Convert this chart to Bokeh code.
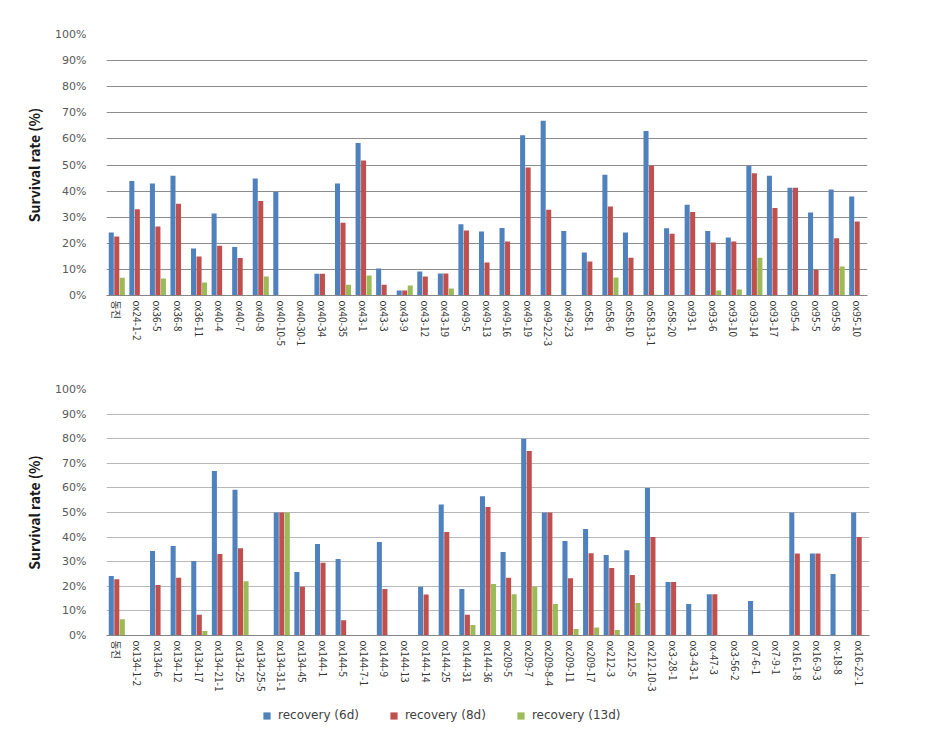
from bokeh.plotting import figure
from bokeh.layouts import column
from bokeh.models import FactorRange, Range1d, FixedTicker, Legend, LegendItem, ColumnDataSource
from bokeh.transform import dodge
from bokeh.embed import file_html
from bokeh.resources import INLINE

# ---------------- data ----------------
top_cats = ["동진", "ox24-1-2", "ox36-5", "ox36-8", "ox36-11", "ox40-4", "ox40-7", "ox40-8",
            "ox40-10-5", "ox40-30-1", "ox40-34", "ox40-35", "ox43-1", "ox43-3", "ox43-9",
            "ox43-12", "ox43-19", "ox49-5", "ox49-13", "ox49-16", "ox49-19", "ox49-22-3",
            "ox49-23", "ox58-1", "ox58-6", "ox58-10", "ox58-13-1", "ox58-20", "ox93-1",
            "ox93-6", "ox93-10", "ox93-14", "ox93-17", "ox95-4", "ox95-5", "ox95-8", "ox95-10"]
top_6d = [24.1, 43.9, 42.9, 45.9, 18.0, 31.4, 18.6, 44.8, 39.7, 0, 8.3, 42.9, 58.4, 10.3, 1.9,
          9.2, 8.4, 27.3, 24.5, 25.9, 61.4, 67.0, 24.7, 16.5, 46.3, 24.1, 63.0, 25.8, 34.8,
          24.7, 22.2, 49.7, 45.9, 41.3, 31.8, 40.6, 37.9]
top_8d = [22.6, 33.0, 26.4, 35.2, 14.9, 19.1, 14.4, 36.2, 0, 0, 8.3, 27.9, 51.7, 4.1, 1.9,
          7.3, 8.4, 24.9, 12.6, 20.7, 49.0, 32.9, 0, 13.0, 34.1, 14.5, 49.7, 23.7, 32.0,
          20.3, 20.7, 46.8, 33.5, 41.3, 9.8, 21.9, 28.4]
top_13d = [6.8, 0, 6.5, 0, 5.0, 0, 0, 7.3, 0, 0, 0, 4.1, 7.7, 0, 3.8,
           0, 2.7, 0, 0, 0, 0, 0, 0, 0, 6.9, 0, 0, 0, 0,
           1.9, 2.3, 14.5, 0, 0, 0, 11.1, 0]

bot_cats = ["동진", "ox134-1-2", "ox134-6", "ox134-12", "ox134-17", "ox134-21-1", "ox134-25",
            "ox134-25-5", "ox134-31-1", "ox134-45", "ox144-1", "ox144-5", "ox144-7-1",
            "ox144-9", "ox144-13", "ox144-14", "ox144-25", "ox144-31", "ox144-36", "ox209-5",
            "ox209-7", "ox209-8-4", "ox209-11", "ox209-17", "ox212-3", "ox212-5",
            "ox212-10-3", "ox3-28-1", "ox3-43-1", "ox-47-3", "ox3-56-2", "ox7-6-1",
            "ox7-9-1", "ox16-1-8", "ox16-9-3", "ox-18-8", "ox16-22-1"]
bot_6d = [24.2, 0, 34.3, 36.4, 30.3, 66.9, 59.2, 0, 50.0, 25.8, 37.2, 31.1, 0, 38.0, 0,
          19.8, 53.3, 18.9, 56.6, 33.9, 80.0, 50.0, 38.4, 43.3, 32.7, 34.7, 60.0, 21.7,
          12.8, 16.8, 0, 14.0, 0, 50.0, 33.3, 25.0, 50.0]
bot_8d = [22.9, 0, 20.5, 23.5, 8.4, 33.1, 35.5, 0, 50.0, 19.8, 29.6, 6.2, 0, 18.9, 0,
          16.7, 42.1, 8.4, 52.2, 23.5, 75.0, 50.0, 23.3, 33.4, 27.4, 24.6, 40.0, 21.7,
          0, 16.8, 0, 0, 0, 33.3, 33.3, 0, 40.0]
bot_13d = [6.6, 0, 0, 0, 1.8, 0, 22.1, 0, 50.0, 0, 0, 0, 0, 0, 0,
           0, 0, 4.3, 20.9, 16.8, 19.8, 12.8, 2.6, 3.3, 2.2, 13.2, 0, 0,
           0, 0, 0, 0, 0, 0, 0, 0, 0]

series_names = ["recovery (6d)", "recovery (8d)", "recovery (13d)"]
series_colors = ["#4F81BD", "#C0504D", "#9BBB59"]
y_ticks = list(range(0, 101, 10))


def make_panel(cats, vals, frame_w, frame_h, top_border, bottom_border, grid_color):
    src = ColumnDataSource(dict(cat=cats, s0=vals[0], s1=vals[1], s2=vals[2]))
    p = figure(x_range=FactorRange(factors=cats, range_padding=0), y_range=Range1d(0, 100),
               frame_width=frame_w, frame_height=frame_h,
               min_border_left=106, min_border_right=50,
               min_border_top=top_border, min_border_bottom=bottom_border,
               output_backend="svg", toolbar_location=None)
    p.outline_line_color = None
    for i, (key, col) in enumerate(zip(["s0", "s1", "s2"], series_colors)):
        p.vbar(x=dodge("cat", (i - 1) * 0.268, range=p.x_range), top=key, width=0.245,
               source=src, fill_color=col, line_color=None)
    # y axis
    p.yaxis.ticker = FixedTicker(ticks=y_ticks)
    p.yaxis.major_label_overrides = {t: f"{t}%" for t in y_ticks}
    p.yaxis.axis_line_color = None
    p.yaxis.major_tick_line_color = None
    p.yaxis.minor_tick_line_color = None
    p.yaxis.major_label_standoff = 14
    p.yaxis.major_label_text_font = "DejaVu Sans"
    p.yaxis.major_label_text_font_size = "11px"
    p.yaxis.major_label_text_color = "#595959"
    p.yaxis.axis_label = "Survival rate (%)"
    p.yaxis.axis_label_text_font = "Noto Sans CJK KR"
    p.yaxis.axis_label_text_font_style = "bold"
    p.yaxis.axis_label_text_font_size = "14px"
    p.yaxis.axis_label_text_color = "#1a1a1a"
    p.yaxis.axis_label_standoff = 8
    p.ygrid.grid_line_color = grid_color
    p.ygrid.grid_line_width = 1
    # x axis
    p.xaxis.major_label_orientation = "vertical"
    p.xaxis.major_label_text_font = "Noto Sans CJK KR"
    p.xaxis.major_label_text_font_size = "10px"
    p.xaxis.major_label_text_color = "#333333"
    p.xaxis.major_label_standoff = 5
    p.xaxis.major_tick_out = 0
    p.xaxis.major_tick_in = 0
    p.xaxis.major_tick_line_color = None
    p.xaxis.minor_tick_line_color = None
    p.xaxis.axis_line_color = "#868686"
    p.xgrid.grid_line_color = None
    return p


p1 = make_panel(top_cats, [top_6d, top_8d, top_13d], 761, 261, 34, 70, "#8c8c8c")
p2 = make_panel(bot_cats, [bot_6d, bot_8d, bot_13d], 763, 246, 24, 66, "#b8b8b8")

# legend strip (own small figure, legend drawn inside its frame)
p3 = figure(width=919, height=30, x_range=Range1d(0, 1), y_range=Range1d(0, 1),
            x_axis_location=None, y_axis_location=None,
            min_border_left=0, min_border_right=0, min_border_top=0, min_border_bottom=0,
            output_backend="svg", toolbar_location=None)
p3.outline_line_color = None
p3.xgrid.grid_line_color = None
p3.ygrid.grid_line_color = None
# zero-height helper bars: they only provide the legend swatches
leg_src = ColumnDataSource(dict(x=[0.0], top=[0.0]))
leg_rends = [p3.vbar(x="x", top="top", bottom=0, width=0.01, source=leg_src,
                     fill_color=c, line_color=None)
             for c in series_colors]
legend = Legend(items=[LegendItem(label=n, renderers=[r]) for n, r in zip(series_names, leg_rends)],
                orientation="horizontal", location=(156, 9))
legend.border_line_color = None
legend.background_fill_alpha = 0
legend.label_text_font = "DejaVu Sans"
legend.label_text_font_size = "12px"
legend.label_text_color = "#404040"
legend.label_height = 12
legend.glyph_width = 9
legend.glyph_height = 9
legend.label_standoff = 7
legend.spacing = 30
legend.padding = 0
legend.margin = 0
p3.add_layout(legend)

layout = column(p1, p2, p3, spacing=0)
open("out.html", "w").write(file_html(layout, INLINE))
